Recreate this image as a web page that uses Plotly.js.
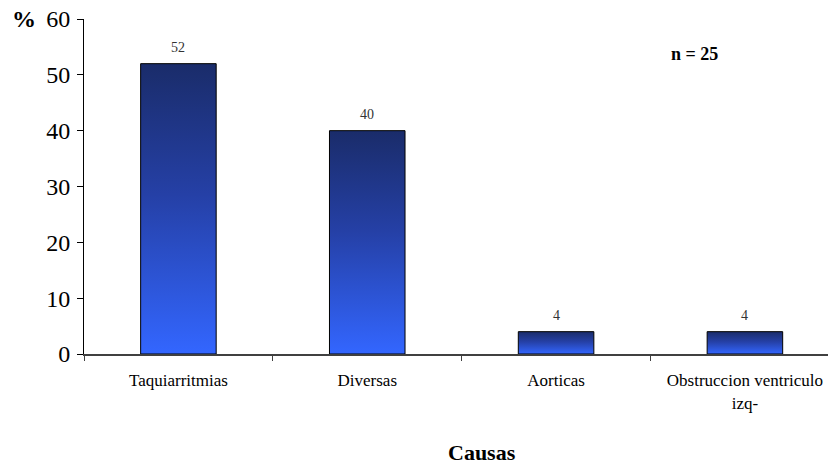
<!DOCTYPE html>
<html>
<head>
<meta charset="utf-8">
<script src="https://cdn.plot.ly/plotly-3.0.1.min.js"></script>
<style>
  html, body { margin: 0; padding: 0; background: #fff; }
  #chart { width: 828px; height: 464px; }
</style>
</head>
<body>
<div id="chart"></div>
<script>
// Causes of the events, percentage of cases
const causas = ['Taquiarritmias', 'Diversas', 'Aorticas', 'Obstruccion ventriculo<br>izq-'];
const porcentajes = [52, 40, 4, 4];
const totalCasos = 25;

const serif = "'Liberation Serif', 'Times New Roman', Times, serif";

const trace = {
  type: 'bar',
  x: causas,
  y: porcentajes,
  width: 0.4,
  marker: { color: '#2649b5', line: { color: '#000', width: 1 } },
  hoverinfo: 'x+y'
};

// value labels sitting above each bar
const valueLabels = causas.map(function (c, i) {
  return {
    x: c, y: porcentajes[i], xref: 'x', yref: 'y',
    text: String(porcentajes[i]),
    showarrow: false, yanchor: 'bottom', yshift: 7,
    font: { family: serif, size: 14, color: '#333' }
  };
});

const layout = {
  width: 828,
  height: 464,
  margin: { l: 84, r: 0, t: 19, b: 110 },
  paper_bgcolor: '#fff',
  plot_bgcolor: '#fff',
  showlegend: false,
  font: { family: serif, color: '#000' },
  xaxis: {
    type: 'category',
    range: [-0.5, 3.44],
    showgrid: false,
    zeroline: false,
    showline: true,
    linecolor: '#404040',
    linewidth: 2,
    ticks: 'outside',
    tickson: 'boundaries',
    ticklen: 5,
    tickcolor: '#404040',
    tickfont: { family: serif, size: 17, color: '#000' },
    ticklabelstandoff: 10
  },
  yaxis: {
    range: [0, 60],
    dtick: 10,
    showgrid: false,
    zeroline: false,
    showline: true,
    linecolor: '#000',
    linewidth: 1,
    ticks: 'outside',
    ticklen: 6,
    tickcolor: '#000',
    tickfont: { family: serif, size: 24, color: '#000' },
    ticklabelstandoff: 2
  },
  annotations: valueLabels.concat([
    { text: '<b>%</b>', xref: 'paper', yref: 'paper', x: -0.081, y: 1.0, xanchor: 'center', yanchor: 'middle',
      showarrow: false, font: { family: serif, size: 24, color: '#000' } },
    { text: '<b>n = ' + totalCasos + '</b>', xref: 'paper', yref: 'paper', x: 0.82, y: 0.895, xanchor: 'center', yanchor: 'middle',
      showarrow: false, font: { family: serif, size: 18, color: '#000' } },
    { text: '<b>Causas</b>', xref: 'paper', yref: 'paper', x: 0.535, y: -0.295, xanchor: 'center', yanchor: 'middle',
      showarrow: false, font: { family: serif, size: 22, color: '#000' } }
  ])
};

Plotly.newPlot('chart', [trace], layout, { displayModeBar: false, responsive: false }).then(function (gd) {
  // vertical shading of each bar: dark navy at the top, bright blue at the base
  const svg = gd.querySelector('svg.main-svg');
  const ns = 'http://www.w3.org/2000/svg';
  let defs = svg.querySelector('defs');
  if (!defs) { defs = document.createElementNS(ns, 'defs'); svg.insertBefore(defs, svg.firstChild); }
  const grad = document.createElementNS(ns, 'linearGradient');
  grad.setAttribute('id', 'barShade');
  grad.setAttribute('x1', '0'); grad.setAttribute('y1', '0');
  grad.setAttribute('x2', '0'); grad.setAttribute('y2', '1');
  [['0%', '#1a2c6a'], ['45%', '#2540a6'], ['100%', '#3366ff']].forEach(function (s) {
    const st = document.createElementNS(ns, 'stop');
    st.setAttribute('offset', s[0]);
    st.setAttribute('stop-color', s[1]);
    grad.appendChild(st);
  });
  defs.appendChild(grad);
  gd.querySelectorAll('.bars .point path').forEach(function (p) {
    p.style.fill = 'url(#barShade)';
  });
});
</script>
</body>
</html>
